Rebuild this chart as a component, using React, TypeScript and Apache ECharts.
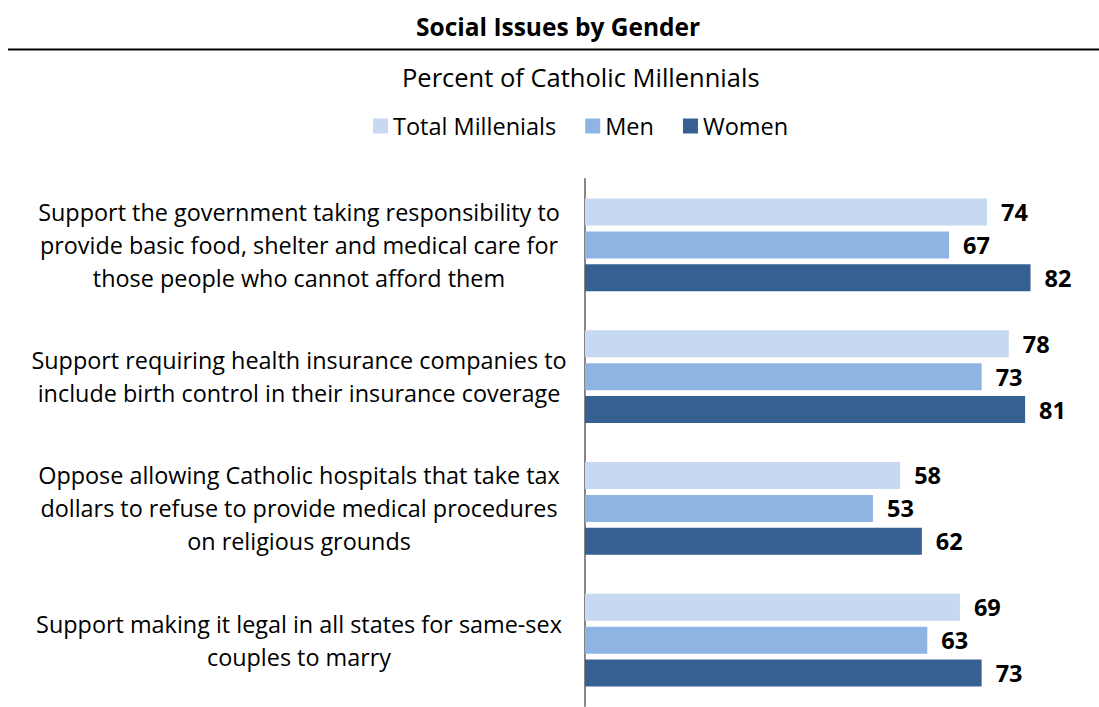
import React, { useEffect, useRef } from "react";
import * as echarts from "echarts";

const categories = [
  "Support the government taking responsibility to\nprovide basic food, shelter and medical care for\nthose people who cannot afford them",
  "Support requiring health insurance companies to\ninclude birth control in their insurance coverage",
  "Oppose allowing Catholic hospitals that take tax\ndollars to refuse to provide medical procedures\non religious grounds",
  "Support making it legal in all states for same-sex\ncouples to marry",
];
const seriesNames = ["Total Millenials", "Men", "Women"];
const totalValues = [74, 78, 58, 69];
const menValues = [67, 73, 53, 63];
const womenValues = [82, 81, 62, 73];
const colors = ["#C6D9F0", "#8EB4E3", "#376092"];

const FONT = "'Open Sans', sans-serif";

export default function App() {
  const ref = useRef<HTMLDivElement>(null);
  useEffect(() => {
    document.body.style.margin = "0";
    const chart = echarts.init(ref.current!, null, { renderer: "svg" });
    const values = [totalValues, menValues, womenValues];
    chart.setOption({
      animation: false,
      backgroundColor: "#fff",
      textStyle: { fontFamily: FONT },
      title: [
        {
          text: "Social Issues by Gender",
          left: 411,
          top: 9,
          textStyle: { fontFamily: FONT, fontWeight: "bold", fontSize: 24.5, color: "#000" },
        },
        {
          text: "Percent of Catholic Millennials",
          left: 397,
          top: 59,
          textStyle: { fontFamily: FONT, fontWeight: "normal", fontSize: 25.5, color: "#000" },
        },
      ],
      graphic: [
        {
          type: "line",
          shape: { x1: 8, y1: 49.5, x2: 1099, y2: 49.5 },
          style: { stroke: "#000", lineWidth: 2 },
        },
      ],
      legend: {
        data: seriesNames,
        left: 368,
        top: 109,
        itemWidth: 15,
        itemHeight: 15,
        itemGap: 29,
        icon: "rect",
        textStyle: { fontFamily: FONT, fontSize: 23.5, color: "#000" },
      },
      grid: { left: 585, top: 179, right: 25, bottom: 1, containLabel: false },
      xAxis: {
        type: "value",
        min: 0,
        max: 90,
        show: false,
        splitLine: { show: false },
      },
      yAxis: {
        type: "category",
        inverse: true,
        data: categories,
        axisLine: { show: true, lineStyle: { color: "#868686", width: 2 } },
        axisTick: { show: false },
        axisLabel: {
          align: "center",
          margin: 286,
          fontFamily: FONT,
          fontSize: 23.4,
          lineHeight: 33,
          color: "#000",
        },
      },
      series: seriesNames.map((name, i) => ({
        name,
        type: "bar",
        data: values[i],
        barWidth: 27,
        barGap: "22%",
        itemStyle: { color: colors[i] },
        label: {
          show: true,
          position: "right",
          distance: 14,
          fontFamily: FONT,
          fontWeight: "bold",
          fontSize: 23.5,
          color: "#000",
        },
      })),
    });
    return () => chart.dispose();
  }, []);
  return (
    <div
      ref={ref}
      style={{ position: "absolute", left: 0, top: 0, width: 1099, height: 707 }}
    />
  );
}
